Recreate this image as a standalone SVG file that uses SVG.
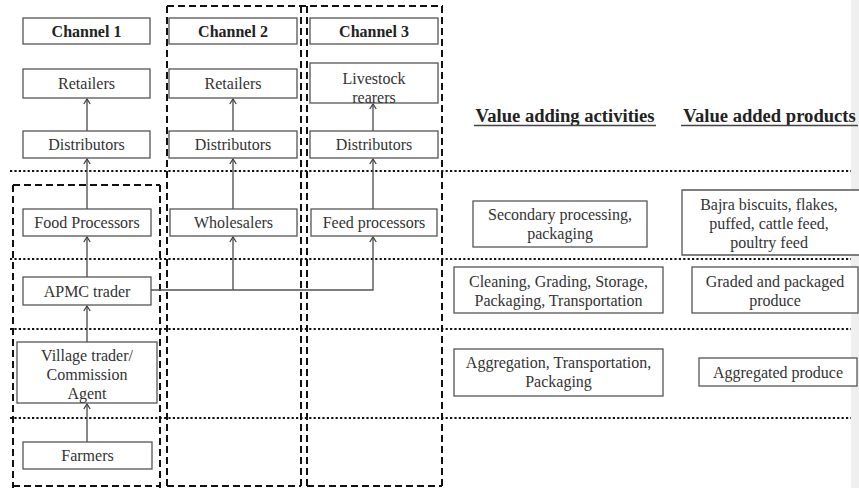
<svg xmlns="http://www.w3.org/2000/svg" width="859" height="488" viewBox="0 0 859 488" font-family="Liberation Serif, Tinos, Times New Roman, serif">
<style>
.box{fill:#fff;stroke:#555;stroke-width:1.3}
.t{font-size:16px;fill:#333;text-anchor:middle}
.h{font-size:16px;font-weight:bold;fill:#222;text-anchor:middle}
.hd{font-size:18.6px;font-weight:bold;fill:#222;text-anchor:middle}
.dot{stroke:#111;stroke-width:2.2;stroke-dasharray:2.2 2.2;fill:none}
.dash{stroke:#111;stroke-width:2;stroke-dasharray:7 4;fill:none}
.c{stroke:#555;stroke-width:1.4;fill:none;marker-end:url(#arr)}
.u{stroke:#444;stroke-width:1.6}
</style>
<defs>
<marker id="arr" viewBox="-7 -5 8 10" refX="0" refY="0" markerWidth="8" markerHeight="10" orient="auto" markerUnits="userSpaceOnUse">
<path d="M-5,-3.2 L0,0 L-5,3.2" fill="none" stroke="#444" stroke-width="1.3"/>
</marker>
</defs>
<rect x="0" y="0" width="859" height="488" fill="#fff"/>
<rect x="851" y="0" width="8" height="488" fill="#efefef"/>

<g id="frames">
<path class="dash" d="M167,6 H443"/>
<path class="dash" d="M167,6 V488"/>
<path class="dash" d="M301,6 V488"/>
<path class="dash" d="M307,6 V488"/>
<path class="dash" d="M442,6 V488"/>
<path class="dash" d="M13,185 H160 M13,185 V488 M160,185 V488"/>
<path class="dash" d="M13,486 H160 M167,486 H301 M307,486 H442"/>
<path class="dot" d="M10,171 H851 M10,259 H851 M10,329 H851 M10,418 H851"/>
</g>

<g id="connectors">
<path class="c" d="M87,131 V99"/>
<path class="c" d="M233,131 V99"/>
<path class="c" d="M373,131 V104"/>
<path class="c" d="M87,209 V159"/>
<path class="c" d="M233,209 V159"/>
<path class="c" d="M373,209 V159"/>
<path class="c" d="M87,277 V237"/>
<path class="c" d="M151,290 H373 V237"/>
<path class="c" d="M233,290 V237"/>
<path class="c" d="M87,342 V306"/>
<path class="c" d="M87,442 V404"/>
</g>

<g id="channel1"><rect class="box" x="23" y="18" width="127" height="26"/><text class="h" x="86.5" y="36.5">Channel 1</text></g>
<g id="channel2"><rect class="box" x="169" y="18" width="128" height="26"/><text class="h" x="233" y="36.5">Channel 2</text></g>
<g id="channel3"><rect class="box" x="310" y="18" width="128" height="26"/><text class="h" x="374" y="36.5">Channel 3</text></g>

<g id="retailers1"><rect class="box" x="23" y="69" width="127" height="29"/><text class="t" x="86.5" y="89">Retailers</text></g>
<g id="retailers2"><rect class="box" x="169" y="69" width="128" height="29"/><text class="t" x="233" y="89">Retailers</text></g>
<g id="livestock"><rect class="box" x="310" y="63" width="128" height="40"/><text class="t" x="374" y="84">Livestock</text><text class="t" x="374" y="102.5">rearers</text></g>

<g id="distributors1"><rect class="box" x="23" y="131" width="127" height="27"/><text class="t" x="86.5" y="150">Distributors</text></g>
<g id="distributors2"><rect class="box" x="169" y="131" width="128" height="27"/><text class="t" x="233" y="150">Distributors</text></g>
<g id="distributors3"><rect class="box" x="310" y="131" width="128" height="27"/><text class="t" x="374" y="150">Distributors</text></g>

<g id="foodproc"><rect class="box" x="23" y="209" width="128" height="27"/><text class="t" x="87" y="228">Food Processors</text></g>
<g id="wholesalers"><rect class="box" x="170" y="209" width="127" height="27"/><text class="t" x="233.5" y="228">Wholesalers</text></g>
<g id="feedproc"><rect class="box" x="311" y="209" width="126" height="27"/><text class="t" x="374" y="228">Feed processors</text></g>

<g id="apmc"><rect class="box" x="23" y="277" width="128" height="28"/><text class="t" x="87" y="296.5">APMC trader</text></g>
<g id="village"><rect class="box" x="17" y="342" width="140" height="61"/><text class="t" x="87" y="361">Village trader/</text><text class="t" x="87" y="380">Commission</text><text class="t" x="87" y="399">Agent</text></g>
<g id="farmers"><rect class="box" x="23" y="442" width="129" height="27"/><text class="t" x="87.5" y="461">Farmers</text></g>

<g id="headers">
<text class="hd" x="565" y="122">Value adding activities</text>
<line class="u" x1="474" y1="125.5" x2="656" y2="125.5"/>
<text class="hd" x="769.5" y="122">Value added products</text>
<line class="u" x1="681" y1="125.5" x2="858" y2="125.5"/>
</g>

<g id="secondary"><rect class="box" x="473" y="201" width="174" height="46"/><text class="t" x="560" y="220">Secondary processing,</text><text class="t" x="560" y="239">packaging</text></g>
<g id="bajra"><path d="M859,190 H682 V255 H859" fill="#fff" stroke="#555" stroke-width="1.3"/><text class="t" x="769" y="210">Bajra biscuits, flakes,</text><text class="t" x="769" y="229">puffed, cattle feed,</text><text class="t" x="769" y="248">poultry feed</text></g>
<g id="cleaning"><rect class="box" x="454" y="267" width="209" height="46"/><text class="t" x="558.5" y="287">Cleaning, Grading, Storage,</text><text class="t" x="558.5" y="306">Packaging, Transportation</text></g>
<g id="graded"><rect class="box" x="692" y="267" width="166" height="46"/><text class="t" x="775" y="287">Graded and packaged</text><text class="t" x="775" y="306">produce</text></g>
<g id="aggregation"><rect class="box" x="454" y="349" width="209" height="47"/><text class="t" x="558.5" y="368">Aggregation, Transportation,</text><text class="t" x="558.5" y="387">Packaging</text></g>
<g id="aggregated"><rect class="box" x="699" y="358" width="158" height="28"/><text class="t" x="778" y="378">Aggregated produce</text></g>
</svg>
